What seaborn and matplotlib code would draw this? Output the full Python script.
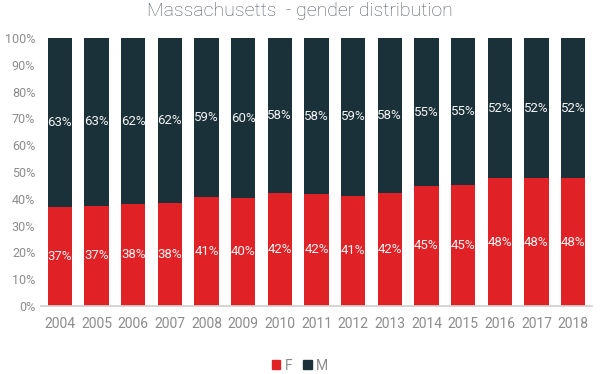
import pandas as pd
import seaborn as sns
import matplotlib.pyplot as plt
from matplotlib.patches import Patch

years = [str(y) for y in range(2004, 2019)]
female = [37.0, 37.4, 38.1, 38.4, 40.8, 40.3, 42.2, 41.8, 41.2, 42.1, 44.8, 45.2, 47.6, 47.7, 47.7]
female_labels = [37, 37, 38, 38, 41, 40, 42, 42, 41, 42, 45, 45, 48, 48, 48]
male_labels = [63, 63, 62, 62, 59, 60, 58, 58, 59, 58, 55, 55, 52, 52, 52]

RED = "#e02226"
DARK = "#1b3139"
GRAY = "#8c8c8c"

df = pd.DataFrame({"year": years, "F": female})
df["M"] = 100 - df["F"]
df["total"] = 100

sns.set_theme(style="white")
plt.rcParams["font.family"] = ["Roboto", "DejaVu Sans"]

fig = plt.figure(figsize=(6, 3.74), dpi=100)
ax = fig.add_axes([0.068, 0.182, 0.919, 0.716])

sns.barplot(data=df, x="year", y="total", color=DARK, width=0.66, saturation=1,
            linewidth=0, ax=ax)
sns.barplot(data=df, x="year", y="F", color=RED, width=0.66, saturation=1,
            linewidth=0, ax=ax)

for i, (f, fl, ml) in enumerate(zip(df["F"], female_labels, male_labels)):
    ax.text(i, f / 2, f"{fl}%", ha="center", va="center", color="#f4f4f4",
            fontsize=9.5, zorder=5)
    ax.text(i, f + (100 - f) / 2, f"{ml}%", ha="center", va="center",
            color="#f4f4f4", fontsize=9.5, zorder=5)

ax.set_xlim(-0.52, 14.52)
ax.set_ylim(0, 100)
ax.set_yticks(range(0, 101, 10))
ax.set_yticklabels([f"{v}%" for v in range(0, 101, 10)])
ax.set_xlabel("")
ax.set_ylabel("")
ax.tick_params(axis="both", length=0, colors=GRAY, labelsize=9)
ax.tick_params(axis="x", labelsize=10, pad=8)
ax.tick_params(axis="y", pad=4)
for s in ["top", "right", "left"]:
    ax.spines[s].set_visible(False)
ax.spines["bottom"].set_color("#d0d0d0")

fig.suptitle("Massachusetts  - gender distribution", y=0.995, fontsize=14,
             color="#4f5862", fontweight="light")

handles = [Patch(color=RED, label="F"), Patch(color=DARK, label="M")]
fig.legend(handles=handles, loc="center", bbox_to_anchor=(0.5, 0.022),
           ncol=2, frameon=False, handlelength=0.6, handleheight=0.6,
           handletextpad=0.3, columnspacing=0.8, labelcolor=GRAY, fontsize=10)

fig.savefig("out.png", dpi=100)
